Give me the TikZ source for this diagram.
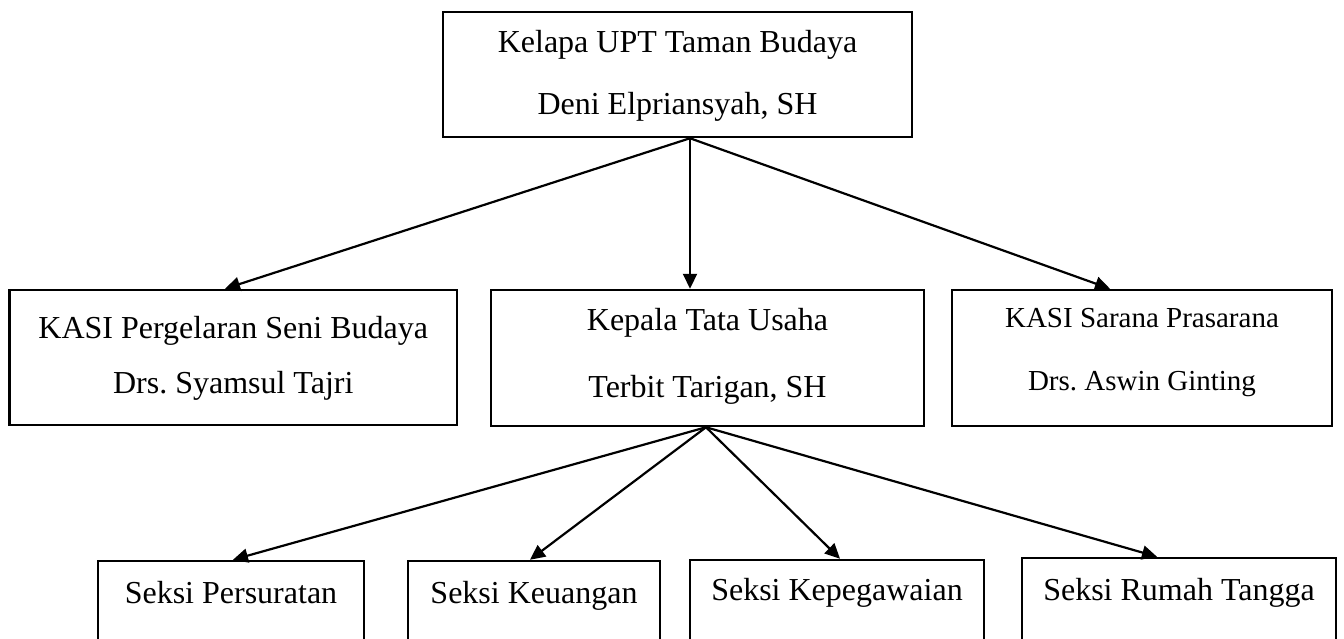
\documentclass[tikz,border=0pt]{standalone}
\usepackage{fontspec}
\setmainfont{Liberation Serif}
\usetikzlibrary{arrows.meta}
\frenchspacing
\begin{document}
\begin{tikzpicture}[x=1pt,y=-1pt,
  orgbox/.style={draw,line width=2.5pt,inner sep=0pt},
  txt/.style={anchor=base,inner sep=0pt,font=\fontsize{32}{38}\selectfont},
  smalltxt/.style={anchor=base,inner sep=0pt,font=\fontsize{29}{35}\selectfont},
  conn/.style={line width=2.2pt,-{Triangle[length=15pt,width=14pt]}}]
\useasboundingbox (0,0) rectangle (1344,639);
\clip (0,0) rectangle (1344,639);
\fill[white] (0,0) rectangle (1344,639);
% boxes
\node[orgbox,minimum width=469pt,minimum height=125pt] (kup) at (677.5,74.5) {};
\node[orgbox,minimum width=447.5pt,minimum height=135pt] (kasiL) at (233.25,357.5) {};
\node[orgbox,minimum width=433pt,minimum height=136pt] (tu) at (707.5,358) {};
\node[orgbox,minimum width=380pt,minimum height=136pt] (kasiR) at (1142,358) {};
\node[orgbox,minimum width=266pt,minimum height=139pt] (sp) at (231,630.5) {};
\node[orgbox,minimum width=252pt,minimum height=139pt] (sk) at (534,630.5) {};
\node[orgbox,minimum width=294pt,minimum height=140pt] (skp) at (837,630) {};
\node[orgbox,minimum width=314pt,minimum height=142pt] (srt) at (1179,629) {};
% texts
\node[txt] (kupA) at (677.5,53) {Kelapa UPT Taman Budaya};
\node[txt] (kupB) at (677.5,115) {Deni Elpriansyah, SH};
\node[txt] (kasiLA) at (233.25,338) {KASI Pergelaran Seni Budaya};
\node[txt] (kasiLB) at (233.25,393) {Drs. Syamsul Tajri};
\node[txt] (tuA) at (707.5,330) {Kepala Tata Usaha};
\node[txt] (tuB) at (707.5,397) {Terbit Tarigan, SH};
\node[smalltxt] (kasiRA) at (1142,327) {KASI Sarana Prasarana};
\node[smalltxt] (kasiRB) at (1142,390) {Drs. Aswin Ginting};
\node[txt] (spA) at (231,603) {Seksi Persuratan};
\node[txt] (skA) at (534,603) {Seksi Keuangan};
\node[txt] (skpA) at (837,600) {Seksi Kepegawaian};
\node[txt] (srtA) at (1179,600) {Seksi Rumah Tangga};
% connectors
\draw[conn] ([xshift=12.5pt]kup.south) -- ([xshift=-8.25pt]kasiL.north);
\draw[conn] ([xshift=12.5pt]kup.south) -- ([xshift=-17.5pt]tu.north);
\draw[conn] ([xshift=12.5pt]kup.south) -- ([xshift=-32pt]kasiR.north);
\draw[conn] ([xshift=-1.5pt]tu.south) -- ([xshift=2pt]sp.north);
\draw[conn] ([xshift=-1.5pt]tu.south) -- ([xshift=-4pt]sk.north);
\draw[conn] ([xshift=-1.5pt]tu.south) -- ([xshift=3pt]skp.north);
\draw[conn] ([xshift=-1.5pt]tu.south) -- ([xshift=-22pt]srt.north);
\end{tikzpicture}
\end{document}
